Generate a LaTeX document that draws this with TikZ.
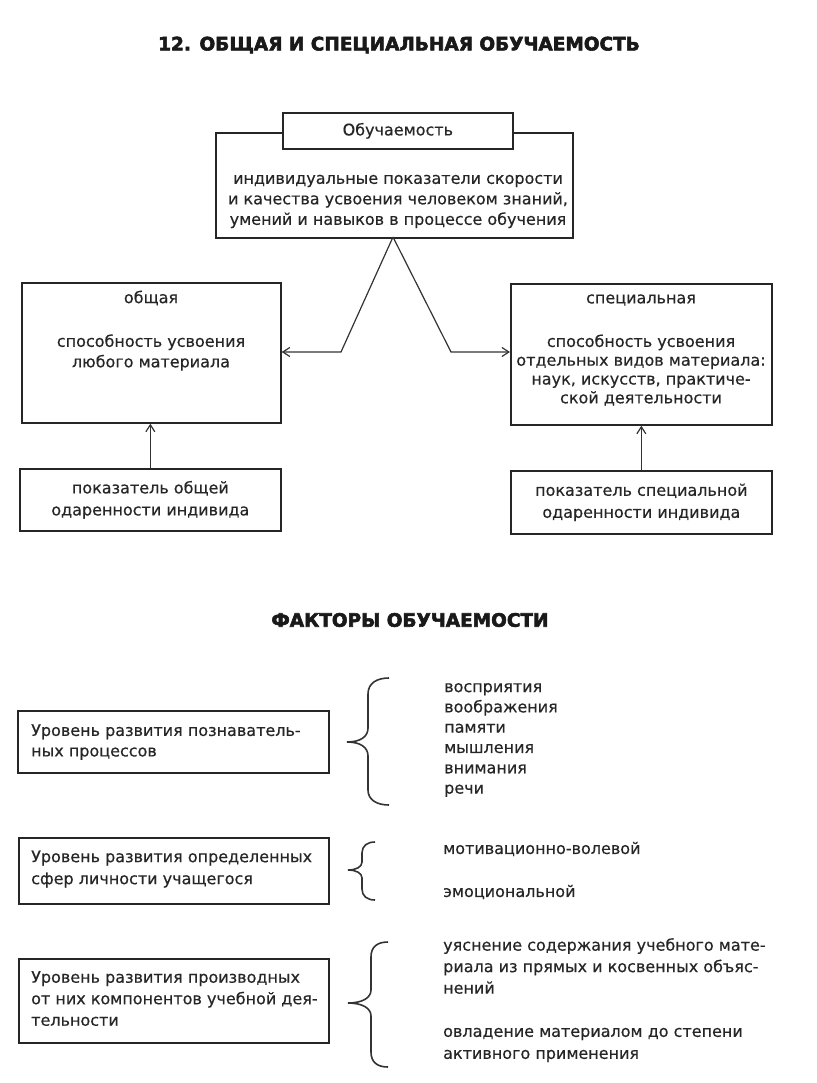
\documentclass[tikz,border=0pt]{standalone}
\usepackage{fontspec}
\setmainfont{DejaVu Sans}[FakeBold=0.4]
\newfontfamily\heavyfont{DejaVu Sans}[BoldFeatures={FakeBold=3}]
\usetikzlibrary{arrows.meta}
\begin{document}
\begin{tikzpicture}[x=1pt,y=-1pt,
  box/.style={draw=black!85, line width=1.7pt, inner sep=0pt, anchor=north west},
  txt/.style={font=\fontsize{16}{20.5}\selectfont, text=black!85, inner sep=0pt, align=center},
  ltxt/.style={txt, align=left, anchor=west},
  ttl/.style={font=\heavyfont\bfseries\fontsize{18.5}{22}\selectfont, text=black!90, inner sep=0pt},
  arr/.style={draw=black!80, line width=1.2pt, -{Straight Barb[length=7pt,width=9pt]}},
  bracel/.style={draw=black!80, line width=1.6pt}]
\fill[white] (0,0) rectangle (816,1083);
\useasboundingbox (0,0) rectangle (816,1083);

% titles
\node[ttl] (title) at (399,45) {12. ОБЩАЯ И СПЕЦИАЛЬНАЯ ОБУЧАЕМОСТЬ};
\node[ttl] (ftitle) at (410,620) {ФАКТОРЫ ОБУЧАЕМОСТИ};

% boxes
\node[box, minimum width=357pt, minimum height=105pt] (defbox) at (215,132) {};
\node[box, fill=white, minimum width=230pt, minimum height=36pt] (obbox) at (282,112) {};
\node[box, minimum width=259pt, minimum height=140pt] (obshbox) at (21,282) {};
\node[box, minimum width=261pt, minimum height=141pt] (specbox) at (510,283) {};
\node[box, minimum width=261pt, minimum height=62pt] (pok1box) at (19,468) {};
\node[box, minimum width=261pt, minimum height=63pt] (pok2box) at (510,470) {};
\node[box, minimum width=311pt, minimum height=62pt] (f1box) at (17,710) {};
\node[box, minimum width=310pt, minimum height=66pt] (f2box) at (18,837) {};
\node[box, minimum width=310pt, minimum height=84pt] (f3box) at (18,958) {};

% texts in top part
\node[txt] (obtxt) at (obbox.center) {Обучаемость};
\node[txt] (deftxt) at (398,201.5) {индивидуальные показатели скорости\\и качества усвоения человеком знаний,\\умений и навыков в процессе обучения};
\node[txt] (obshhead) at (151,298) {общая};
\node[txt] (obshtxt) at (151,352.5) {способность усвоения\\любого материала};
\node[txt] (spechead) at (641,300) {специальная};
\node[txt, font=\fontsize{16}{18.8}\selectfont] (spectxt) at (641,370) {способность усвоения\\отдельных видов материала:\\наук, искусств, практиче-\\ской деятельности};
\node[txt, font=\fontsize{16}{22}\selectfont] (pok1txt) at (pok1box.center) {показатель общей\\одаренности индивида};
\node[txt, font=\fontsize{16}{22}\selectfont] (pok2txt) at (pok2box.center) {показатель специальной\\одаренности индивида};

% connectors
\coordinate (apex) at (393,237);
\coordinate (lb) at (341,352);
\coordinate (rb) at (451,352);
\draw[arr] (apex) -- (lb) -- (lb -| obshbox.east);
\draw[arr] (apex) -- (rb) -- (rb -| specbox.west);
\draw[arr] (pok1box.north) -- (pok1box.north |- obshbox.south);
\draw[arr] (pok2box.north) -- (pok2box.north |- specbox.south);

% factors
\node[ltxt, font=\fontsize{16}{20.5}\selectfont] (f1txt) at (31,742) {Уровень развития познаватель-\\ных процессов};
\node[ltxt, font=\fontsize{16}{20.3}\selectfont] (f1items) at (444,740) {восприятия\\воображения\\памяти\\мышления\\внимания\\речи};
\node[ltxt, font=\fontsize{16}{22}\selectfont] (f2txt) at (31,869) {Уровень развития определенных\\сфер личности учащегося};
\node[ltxt] (f2a) at (443,849) {мотивационно-волевой};
\node[ltxt] (f2b) at (443,892) {эмоциональной};
\node[ltxt, font=\fontsize{16}{21.5}\selectfont] (f3txt) at (31,998.5) {Уровень развития производных\\от них компонентов учебной дея-\\тельности};
\node[ltxt, font=\fontsize{16}{21.5}\selectfont] (f3a) at (443,966) {уяснение содержания учебного мате-\\риала из прямых и косвенных объяс-\\нений};
\node[ltxt, font=\fontsize{16}{22}\selectfont] (f3b) at (443,1045) {овладение материалом до степени\\активного применения};

% braces
\draw[bracel] (389,678) .. controls (377,678) and (368,683) .. (368,694) -- (368,728)
  .. controls (368,737) and (360,742) .. (347,742)
  .. controls (360,742) and (368,747) .. (368,756) -- (368,790)
  .. controls (368,800) and (377,805) .. (389,805);
\draw[bracel] (375,842) .. controls (367,842) and (362,846) .. (362,853) -- (362,862)
  .. controls (362,867) and (356,870) .. (348,870)
  .. controls (356,870) and (362,873) .. (362,878) -- (362,889)
  .. controls (362,896) and (367,900) .. (375,900);
\draw[bracel] (388,942) .. controls (377,942) and (371,947) .. (371,957) -- (371,990)
  .. controls (371,998) and (362,1003) .. (348,1003)
  .. controls (362,1003) and (371,1008) .. (371,1016) -- (371,1052)
  .. controls (371,1062) and (377,1067) .. (388,1067);
\end{tikzpicture}
\end{document}
